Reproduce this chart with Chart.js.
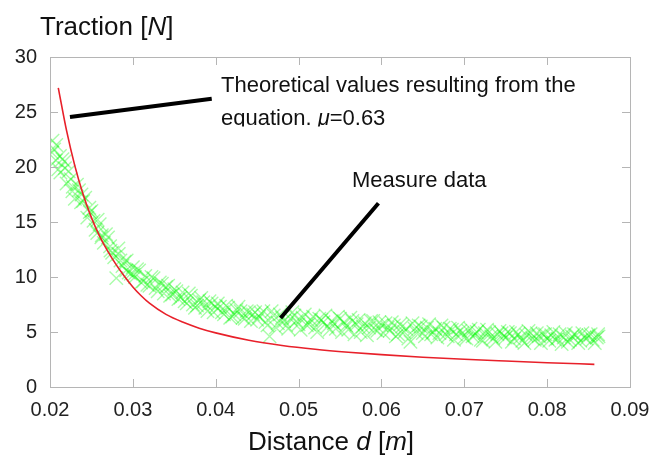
<!DOCTYPE html>
<html>
<head>
<meta charset="utf-8">
<script src="https://cdn.jsdelivr.net/npm/chart.js@4.4.1/dist/chart.umd.min.js"></script>
<style>
  html, body { margin: 0; padding: 0; background: #fff; }
</style>
</head>
<body>
<canvas id="chart" width="669" height="459"></canvas>
<script>
// axis ticks
const xTicks = [0.02, 0.03, 0.04, 0.05, 0.06, 0.07, 0.08, 0.09];
const yTicks = [0, 5, 10, 15, 20, 25, 30];

// theoretical curve (mu = 0.63)
const theoD = [0.021, 0.022, 0.023, 0.024, 0.025, 0.026, 0.027, 0.028, 0.029, 0.030, 0.031, 0.032, 0.034,
               0.036, 0.038, 0.040, 0.044, 0.048, 0.052, 0.056, 0.060, 0.065, 0.070, 0.075, 0.080, 0.0857];
const theoF = [27.2, 23.3, 20.1, 17.5, 15.4, 13.7, 12.3, 11.1, 10.05, 9.1, 8.3, 7.62, 6.6,
               5.9, 5.35, 4.92, 4.25, 3.78, 3.43, 3.16, 2.94, 2.71, 2.52, 2.36, 2.21, 2.06];

const measD = [
  0.0203, 0.0205, 0.0207, 0.0210, 0.0212, 0.0215, 0.0218, 0.0220, 0.0225, 0.0227,
  0.0230, 0.0235, 0.0238, 0.0240, 0.0245, 0.0248, 0.0250, 0.0255, 0.0257, 0.0260,
  0.0262, 0.0265, 0.0270, 0.0273, 0.0275, 0.0280, 0.0283, 0.0285, 0.0290, 0.0292,
  0.0295, 0.0300, 0.0301, 0.0305, 0.0310, 0.0315, 0.0320, 0.0325, 0.0330, 0.0335,
  0.0340, 0.0345, 0.0350, 0.0355, 0.0360, 0.0365, 0.0370, 0.0375, 0.0380, 0.0385,
  0.0390, 0.0395, 0.0400, 0.0405, 0.0410, 0.0415, 0.0420, 0.0425, 0.0430, 0.0435,
  0.0440, 0.0445, 0.0450, 0.0455, 0.0460, 0.0465, 0.0470, 0.0475, 0.0480, 0.0485,
  0.0490, 0.0495, 0.0500, 0.0505, 0.0510, 0.0515, 0.0520, 0.0525, 0.0530, 0.0535,
  0.0540, 0.0545, 0.0550, 0.0555, 0.0560, 0.0565, 0.0570, 0.0575, 0.0580, 0.0585,
  0.0590, 0.0595, 0.0600, 0.0605, 0.0610, 0.0615, 0.0620, 0.0625, 0.0630, 0.0635,
  0.0640, 0.0645, 0.0650, 0.0655, 0.0660, 0.0665, 0.0670, 0.0675, 0.0680, 0.0685,
  0.0690, 0.0695, 0.0700, 0.0705, 0.0710, 0.0715, 0.0720, 0.0725, 0.0730, 0.0735,
  0.0740, 0.0745, 0.0750, 0.0755, 0.0760, 0.0765, 0.0770, 0.0775, 0.0780, 0.0785,
  0.0790, 0.0795, 0.0800, 0.0805, 0.0810, 0.0815, 0.0820, 0.0825, 0.0830, 0.0835,
  0.0840, 0.0845, 0.0850, 0.0855, 0.0860, 0.0862
];
const measF = [
  22.4, 21.6, 20.6, 19.8, 21.0, 20.7, 19.9, 18.5, 18.9, 17.8,
  17.1, 17.9, 17.5, 16.9, 15.4, 15.9, 16.0, 14.3, 14.0, 14.8,
  13.6, 13.1, 13.6, 12.4, 12.2, 9.9, 12.1, 11.5, 11.4, 10.6,
  10.4, 10.9, 10.2, 10.7, 9.5, 10.1, 9.2, 9.9, 8.7, 9.4,
  9.1, 8.3, 8.9, 8.0, 8.6, 7.6, 8.3, 7.2, 7.9, 7.7,
  6.9, 7.6, 7.3, 7.3, 6.6, 7.2, 6.4, 7.0, 6.9, 6.2,
  6.8, 6.6, 6.1, 6.7, 5.9, 4.6, 6.5, 5.8, 6.3, 5.6,
  6.2, 6.5, 5.7, 6.3, 5.6, 6.1, 5.4, 6.2, 5.9, 5.5,
  6.0, 5.3, 6.2, 5.9, 5.2, 6.0, 5.7, 5.0, 5.8, 5.4,
  6.0, 5.1, 5.6, 5.8, 5.1, 5.6, 4.8, 5.5, 5.3, 4.1,
  5.3, 5.6, 4.9, 5.4, 4.8, 5.3, 4.9, 5.4, 4.6, 5.2,
  4.8, 5.1, 4.5, 5.1, 4.6, 5.0, 4.3, 4.9, 5.0, 4.4,
  4.8, 4.9, 4.5, 4.9, 4.4, 4.8, 4.2, 4.7, 4.9, 4.3,
  4.6, 4.8, 4.4, 4.7, 4.3, 4.8, 4.5, 4.1, 4.6, 4.7,
  4.2, 4.5, 4.7, 4.3, 4.5, 4.6
];
const measD2 = [
  0.02025, 0.02075, 0.02125, 0.02175, 0.02225, 0.02275, 0.02325, 0.02375, 0.02425, 0.02475,
  0.02525, 0.02575, 0.02625, 0.02675, 0.02725, 0.02775, 0.02825, 0.02875, 0.02925, 0.02975,
  0.03025, 0.03075, 0.03125, 0.03175, 0.03225, 0.03275, 0.03325, 0.03375, 0.03425, 0.03475,
  0.03525, 0.03575, 0.03625, 0.03675, 0.03725, 0.03775, 0.03825, 0.03875, 0.03925, 0.03975,
  0.04025, 0.04075, 0.04125, 0.04175, 0.04225, 0.04275, 0.04325, 0.04375, 0.04425, 0.04475,
  0.04525, 0.04575, 0.04625, 0.04675, 0.04725, 0.04775, 0.04825, 0.04875, 0.04925, 0.04975,
  0.05025, 0.05075, 0.05125, 0.05175, 0.05225, 0.05275, 0.05325, 0.05375, 0.05425, 0.05475,
  0.05525, 0.05575, 0.05625, 0.05675, 0.05725, 0.05775, 0.05825, 0.05875, 0.05925, 0.05975,
  0.06025, 0.06075, 0.06125, 0.06175, 0.06225, 0.06275, 0.06325, 0.06375, 0.06425, 0.06475,
  0.06525, 0.06575, 0.06625, 0.06675, 0.06725, 0.06775, 0.06825, 0.06875, 0.06925, 0.06975,
  0.07025, 0.07075, 0.07125, 0.07175, 0.07225, 0.07275, 0.07325, 0.07375, 0.07425, 0.07475,
  0.07525, 0.07575, 0.07625, 0.07675, 0.07725, 0.07775, 0.07825, 0.07875, 0.07925, 0.07975,
  0.08025, 0.08075, 0.08125, 0.08175, 0.08225, 0.08275, 0.08325, 0.08375, 0.08425, 0.08475,
  0.08525, 0.08575, 0.08615
];
const measF2 = [
  21.3, 22.0, 19.5, 20.5, 19.6, 18.2, 18.4, 16.8, 17.2, 16.3,
  15.1, 15.2, 13.8, 13.9, 12.8, 11.8, 12.6, 11.0, 11.5, 10.3,
  10.0, 10.6, 9.6, 9.3, 10.0, 9.0, 9.5, 8.5, 9.2, 8.4,
  8.7, 8.1, 7.8, 8.5, 7.5, 7.4, 8.1, 7.2, 7.8, 6.8,
  7.6, 6.8, 7.4, 6.3, 6.6, 7.3, 6.3, 6.9, 6.0, 6.8,
  6.4, 6.9, 5.6, 6.9, 5.4, 6.6, 6.0, 5.3, 6.8, 6.0,
  5.2, 6.6, 5.7, 6.4, 5.0, 6.1, 6.5, 5.2, 5.8, 6.4,
  5.0, 5.6, 6.3, 4.8, 6.1, 5.5, 4.7, 6.0, 5.2, 5.9,
  4.9, 5.4, 5.9, 4.6, 5.7, 5.0, 4.4, 5.8, 4.9, 5.5,
  4.6, 5.7, 5.0, 4.5, 5.6, 4.8, 5.3, 4.3, 5.4, 4.9,
  4.4, 5.3, 4.7, 5.2, 4.2, 5.2, 4.6, 4.1, 5.1, 4.6,
  5.0, 4.1, 5.0, 4.5, 4.0, 5.1, 4.4, 4.9, 4.0, 4.8,
  4.2, 5.0, 4.4, 3.9, 4.9, 4.3, 4.8, 4.0, 4.9, 4.4,
  4.8, 4.0, 4.8
];

const FONT = "'Liberation Sans', Arial, sans-serif";
const frameColor = '#b5b5b5';

function drawRuns(ctx, runs, x, y, size) {
  let cx = x;
  runs.forEach(([txt, it]) => {
    ctx.font = (it ? 'italic ' : '') + size + 'px ' + FONT;
    ctx.fillText(txt, cx, y);
    cx += ctx.measureText(txt).width;
  });
  return cx - x;
}

function runsWidth(ctx, runs, size) {
  let w = 0;
  runs.forEach(([txt, it]) => {
    ctx.font = (it ? 'italic ' : '') + size + 'px ' + FONT;
    w += ctx.measureText(txt).width;
  });
  return w;
}

const decor = {
  id: 'decor',
  afterDraw(chart) {
    const { ctx, chartArea: a, scales: { x, y } } = chart;
    ctx.save();

    // frame with inward ticks on all sides
    ctx.strokeStyle = frameColor;
    ctx.lineWidth = 1;
    ctx.strokeRect(a.left + 0.5, a.top + 0.5, a.right - a.left, a.bottom - a.top);
    ctx.beginPath();
    x.ticks.forEach(t => {
      const px = Math.round(x.getPixelForValue(t.value)) + 0.5;
      if (px < a.left + 2 || px > a.right - 2) return;
      ctx.moveTo(px, a.bottom); ctx.lineTo(px, a.bottom - 8);
      ctx.moveTo(px, a.top); ctx.lineTo(px, a.top + 8);
    });
    y.ticks.forEach(t => {
      const py = Math.round(y.getPixelForValue(t.value)) + 0.5;
      if (py < a.top + 2 || py > a.bottom - 2) return;
      ctx.moveTo(a.left, py); ctx.lineTo(a.left + 8, py);
      ctx.moveTo(a.right, py); ctx.lineTo(a.right - 8, py);
    });
    ctx.stroke();

    // pointer lines
    ctx.strokeStyle = '#000';
    ctx.lineWidth = 4;
    ctx.beginPath();
    ctx.moveTo(x.getPixelForValue(0.02241), y.getPixelForValue(24.55));
    ctx.lineTo(x.getPixelForValue(0.03952), y.getPixelForValue(26.2));
    ctx.moveTo(x.getPixelForValue(0.04783), y.getPixelForValue(6.27));
    ctx.lineTo(x.getPixelForValue(0.05964), y.getPixelForValue(16.7));
    ctx.stroke();

    // annotations
    ctx.fillStyle = '#111';
    ctx.textBaseline = 'alphabetic';
    drawRuns(ctx, [['Theoretical values resulting from the', false]], 221, 92, 22);
    ctx.save();
    ctx.beginPath();
    ctx.rect(200, 100, 400, 26.5);
    ctx.clip();
    drawRuns(ctx, [['equation. ', false], ['\u03bc', true], ['=0.63', false]], 221, 125, 22);
    ctx.restore();
    drawRuns(ctx, [['Measure data', false]], 352, 187, 22);

    // axis titles
    drawRuns(ctx, [['Traction [', false], ['N', true], [']', false]], 40, 35, 26);
    const xt = [['Distance ', false], ['d', true], [' [', false], ['m', true], [']', false]];
    const w = runsWidth(ctx, xt, 26);
    drawRuns(ctx, xt, 331 - w / 2, 450, 26);

    ctx.restore();
  }
};

const measPoints = measD.map((d, i) => ({ x: d, y: measF[i] }))
  .concat(measD2.map((d, i) => ({ x: d, y: measF2[i] })));

new Chart(document.getElementById('chart'), {
  type: 'scatter',
  data: {
    datasets: [
      {
        data: theoD.map((d, i) => ({ x: d, y: theoF[i] })),
        showLine: true,
        borderColor: '#e8202a',
        borderWidth: 1.6,
        pointRadius: 0,
        cubicInterpolationMode: 'monotone',
        fill: false
      },
      {
        data: measPoints,
        showLine: false,
        pointStyle: 'crossRot',
        pointRadius: 9.5,
        borderWidth: 1.4,
        borderColor: 'rgba(0,245,0,0.34)',
        backgroundColor: 'rgba(0,245,0,0.34)'
      }
    ]
  },
  options: {
    responsive: false,
    animation: false,
    layout: { padding: { left: 0, right: 39, top: 57, bottom: 0 } },
    plugins: { legend: { display: false }, tooltip: { enabled: false } },
    scales: {
      x: {
        type: 'linear', min: 0.02, max: 0.09,
        afterBuildTicks: s => { s.ticks = xTicks.map(v => ({ value: v })); },
        afterFit: s => { s.height = 72; },
        grid: { display: false, drawTicks: false }, border: { display: false },
        ticks: {
          font: { family: FONT, size: 20 }, color: '#222', padding: 11,
          maxRotation: 0, autoSkip: false, callback: v => v.toFixed(2)
        }
      },
      y: {
        min: 0, max: 30,
        afterBuildTicks: s => { s.ticks = yTicks.map(v => ({ value: v })); },
        afterFit: s => { s.width = 50; },
        grid: { display: false, drawTicks: false }, border: { display: false },
        ticks: { font: { family: FONT, size: 20 }, color: '#222', padding: 13 }
      }
    }
  },
  plugins: [decor]
});
</script>
</body>
</html>
